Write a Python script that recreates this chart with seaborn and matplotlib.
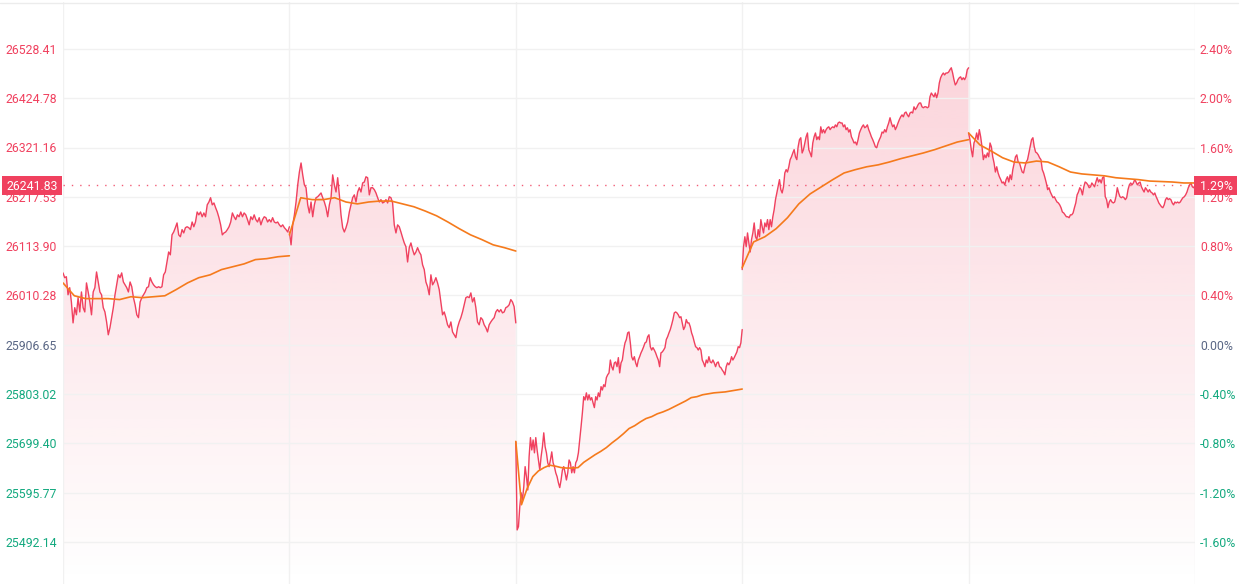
import numpy as np
import pandas as pd
import matplotlib
matplotlib.use("Agg")
import matplotlib.pyplot as plt
import matplotlib.colors as mcolors
import seaborn as sns
from matplotlib.patches import Rectangle, PathPatch
from matplotlib.path import Path
from matplotlib.lines import Line2D

# ---------------- data ----------------
PREV_CLOSE = 25906.65
LAST_PRICE = 26241.83
pct_ticks = [-1.6, -1.2, -0.8, -0.4, 0.0, 0.4, 0.8, 1.2, 1.6, 2.0, 2.4]

# intraday change vs previous close (index points), five sessions
day1_chg = [151,141,143,105,120,90,46,78,63,99,69,111,78,69,130,111,90,63,111,120,153,132,111,105,78,69,48,21,36,57,
            78,105,126,147,141,151,132,126,120,111,132,122,99,84,63,57,90,99,105,111,120,122,141,132,126,122,120,122,120,122,
            147,153,174,195,189,231,237,246,256,231,227,242,235,246,248,246,242,258,248,258,279,273,279,269,277,269,294,300,309,294,
            298,288,279,267,252,231,235,237,242,248,258,277,269,263,273,269,279,269,277,273,263,252,269,263,273,263,258,267,252,263,
            269,267,258,263,258,267,258,256,258,252,248,252,246,242,237,248]
day2_chg = [237,210,252,273,300,336,363,382,357,336,330,294,277,300,269,294,309,311,315,319,309,300,288,269,294,309,357,336,321,351,
            315,273,246,237,246,258,279,294,309,315,300,321,330,321,340,342,353,351,315,330,330,326,319,309,300,305,298,300,305,298,
            311,309,298,252,235,252,248,237,225,214,206,174,204,214,200,189,195,204,195,189,168,158,132,122,105,147,126,132,141,130,
            116,90,63,69,57,42,36,48,27,21,15,36,48,57,69,84,99,101,99,109,90,99,78,48,42,57,53,42,36,27,
            42,48,53,57,69,74,69,74,67,69,78,80,84,95,90,80,46]
day3_chg = [-204,-389,-382,-340,-311,-326,-298,-256,-277,-305,-235,-195,-221,-200,-227,-195,-221,-242,-263,-235,-214,-185,-214,-227,-248,
            -256,-242,-225,-248,-256,-269,-277,-290,-300,-284,-263,-256,-269,-284,-269,-242,-248,-269,-256,-269,-248,-242,-227,-200,-172,
            -143,-109,-116,-101,-116,-105,-116,-111,-122,-132,-109,-116,-101,-109,-88,-95,-84,-88,-69,-63,-59,-32,-46,-53,-38,
            -36,-46,-27,-59,-38,-32,-11,4,11,25,27,4,-25,-32,-25,-38,-46,-32,-25,-17,-11,-4,4,6,17,
            21,-4,-11,-6,-11,-17,-25,-32,-46,-17,-15,-11,-6,11,17,25,32,42,53,67,69,67,63,57,59,
            46,32,38,53,46,46,38,25,17,6,-4,-6,-11,-6,-11,-32,-38,-46,-32,-38,-25,-36,-38,-32,-38,
            -46,-38,-36,-46,-48,-53,-57,-63,-46,-38,-42,-36,-25,-32,-27,-21,-15,-4,-6,4,32]
day4_chg = [158,206,227,206,235,214,195,221,235,256,227,221,242,227,263,248,235,256,248,263,242,263,248,269,284,305,319,332,347,326,
            319,332,361,368,363,374,389,395,403,410,395,389,416,431,435,403,410,424,437,445,410,403,395,424,437,445,431,437,431,458,
            445,452,445,452,456,458,452,456,458,456,462,458,466,468,466,466,458,462,452,456,447,452,437,431,424,426,420,431,445,452,
            458,462,456,458,462,452,445,437,431,424,416,414,424,431,437,447,445,452,447,458,466,477,466,458,462,452,458,466,473,479,
            483,479,487,489,483,479,487,489,487,500,494,498,504,508,508,500,498,500,500,498,500,521,529,525,521,529,519,529,550,561,
            567,571,567,571,571,573,578,582,571,557,546,550,557,561,563,557,561,557,563,578,582]
day5_chg = [445,431,410,395,424,431,445,431,452,437,416,389,399,393,403,395,424,416,395,382,363,374,361,353,347,340,342,336,347,353,
            342,357,347,368,382,395,399,384,382,372,363,361,374,384,389,403,416,431,435,416,405,403,399,393,389,368,361,351,340,326,
            330,321,315,309,311,305,300,298,294,288,279,277,273,269,269,267,273,273,277,288,298,315,321,330,326,315,332,342,340,336,
            330,332,340,336,332,342,351,342,347,340,351,353,311,305,288,300,305,300,298,300,311,330,319,311,309,311,309,305,309,326,
            336,340,336,340,347,342,336,340,342,332,326,321,330,326,321,326,321,319,315,319,311,305,298,294,290,288,294,305,309,305,
            307,305,298,294,300,298,300,298,300,305,309,311,315,321,330,336,340,332,330,335.18]

# session average price (change vs previous close)
day1_avg = [130,103,97,97,97,95,101,99,101,103,116,130,141,147,158,164,170,179,181,185,187]
day2_avg = [231,309,305,305,309,300,296,300,302,302,296,290,281,271,258,244,231,221,210,204,197]
day3_avg = [-203,-336,-302,-277,-265,-258,-253,-255,-258,-259,-259,-258,-247,-239,-231,-224,-216,-206,-197,-187,-176,
            -170,-162,-155,-151,-145,-141,-136,-130,-124,-118,-111,-109,-105,-103,-101,-100,-99,-97,-95,-93]
day4_avg = [162,216,227,244,267,296,317,332,347,361,368,374,378,384,391,397,403,410,418,426,431]
day5_avg = [445,420,407,393,384,382,386,384,374,363,359,357,355,351,349,347,344,343,342,340,340]

price_days = [day1_chg, day2_chg, day3_chg, day4_chg, day5_chg]
avg_days = [day1_avg, day2_avg, day3_avg, day4_avg, day5_avg]

# ---------------- build frames ----------------
def build(days):
    rows = []
    for d, chg in enumerate(days):
        n = len(chg)
        xs = d + np.linspace(0, 1, n)
        for x, c in zip(xs, chg):
            rows.append((d, x, PREV_CLOSE + c))
    return pd.DataFrame(rows, columns=["day", "x", "price"])

df_price = build(price_days)
df_avg = build(avg_days)

# ---------------- style ----------------
sns.set_style("white")
plt.rcParams["font.family"] = ["Roboto", "DejaVu Sans"]

RED = "#f0415f"
GREEN = "#13a97f"
NEUTRAL = "#5a6785"
ORANGE = "#f57a1c"
GRID = "#f1f1f1"
FS = 8.8

W, H = 1251, 584
L, R, T, B = 63, 1195, 2, 584
fig = plt.figure(figsize=(W / 100, H / 100), dpi=100)
ax = fig.add_axes([L / W, 1 - B / H, (R - L) / W, (B - T) / H])

ylo = PREV_CLOSE * (1 - 0.0194)
yhi = PREV_CLOSE * (1 + 0.0278)

# gradient fill under each session's price line
grad = np.zeros((256, 1, 4))
grad[..., :3] = mcolors.to_rgb(RED)
grad[:, 0, 3] = np.linspace(0.25, 0.0, 256)
im = ax.imshow(grad, extent=[0, 5, ylo, yhi], aspect="auto", origin="upper",
               zorder=1, interpolation="bilinear")
paths = []
for d in range(5):
    sub = df_price[df_price.day == d]
    xy = sub[["x", "price"]].to_numpy()
    verts = np.vstack([xy, [[xy[-1, 0], ylo], [xy[0, 0], ylo], [xy[0, 0], ylo]]])
    paths.append(Path(verts, closed=True))
clip = PathPatch(Path.make_compound_path(*paths), transform=ax.transData,
                 facecolor="none", edgecolor="none")
im.set_clip_path(clip)

sns.lineplot(data=df_price, x="x", y="price", units="day", estimator=None,
             color=RED, lw=1.0, ax=ax, zorder=4, legend=False)
sns.lineplot(data=df_avg, x="x", y="price", units="day", estimator=None,
             color=ORANGE, lw=1.2, ax=ax, zorder=5, legend=False)

ax.axhline(LAST_PRICE, color=RED, ls=(0, (1, 5)), lw=1.0, alpha=0.85, zorder=3.5)

ax.set_xlim(0, 5)
ax.set_ylim(ylo, yhi)
ax.set_xlabel("")
ax.set_ylabel("")
ax.set_xticks(range(6))
ax.set_xticklabels([])
price_ticks = [PREV_CLOSE * (1 + p / 100) for p in pct_ticks]
ax.set_yticks(price_ticks)
ax.set_yticklabels([f"{v:.2f}" for v in price_ticks])
ax.set_axisbelow(False)
ax.grid(True, color=GRID, lw=1.0, zorder=2)
ax.tick_params(axis="both", length=0)
ax.tick_params(axis="y", labelsize=FS, pad=4.3)


def col(p):
    if abs(p) < 1e-9:
        return NEUTRAL
    return RED if p > 0 else GREEN


for lab, p in zip(ax.get_yticklabels(), pct_ticks):
    lab.set_color(col(p))
for s in ax.spines.values():
    s.set_visible(False)

ax2 = ax.twinx()
ax2.set_ylim((ylo / PREV_CLOSE - 1) * 100, (yhi / PREV_CLOSE - 1) * 100)
ax2.set_yticks(pct_ticks)
ax2.set_yticklabels([f"{p:.2f}%" for p in pct_ticks])
ax2.tick_params(axis="y", length=0, labelsize=FS, pad=3.6)
ax2.grid(False)
for lab, p in zip(ax2.get_yticklabels(), pct_ticks):
    lab.set_color(col(p))
for s in ax2.spines.values():
    s.set_visible(False)

# last-price markers
aw, ah = R - L, B - T
yf = (LAST_PRICE - ylo) / (yhi - ylo)
ax.add_patch(Rectangle((-61 / aw, yf - 9.5 / ah), 60 / aw, 19 / ah, transform=ax.transAxes,
                       clip_on=False, facecolor=RED, edgecolor="none", zorder=10))
ax.text(-31 / aw, yf, f"{LAST_PRICE:.2f}", transform=ax.transAxes, ha="center",
        va="center_baseline", color="white", fontsize=FS, zorder=11, clip_on=False)
ax.add_patch(Rectangle((-1 / aw + 1, yf - 9.5 / ah), 43 / aw, 19 / ah, transform=ax.transAxes,
                       clip_on=False, facecolor=RED, edgecolor="none", zorder=10))
ax.text(1 + 21 / aw, yf, f"{(LAST_PRICE / PREV_CLOSE - 1) * 100:.2f}%", transform=ax.transAxes,
        ha="center", va="center_baseline", color="white", fontsize=FS, zorder=11, clip_on=False)

fig.add_artist(Line2D([0, 1238 / W], [1 - 2.5 / H] * 2, transform=fig.transFigure,
                      color="#ececec", lw=1.0))

fig.savefig("out.png", dpi=100)
